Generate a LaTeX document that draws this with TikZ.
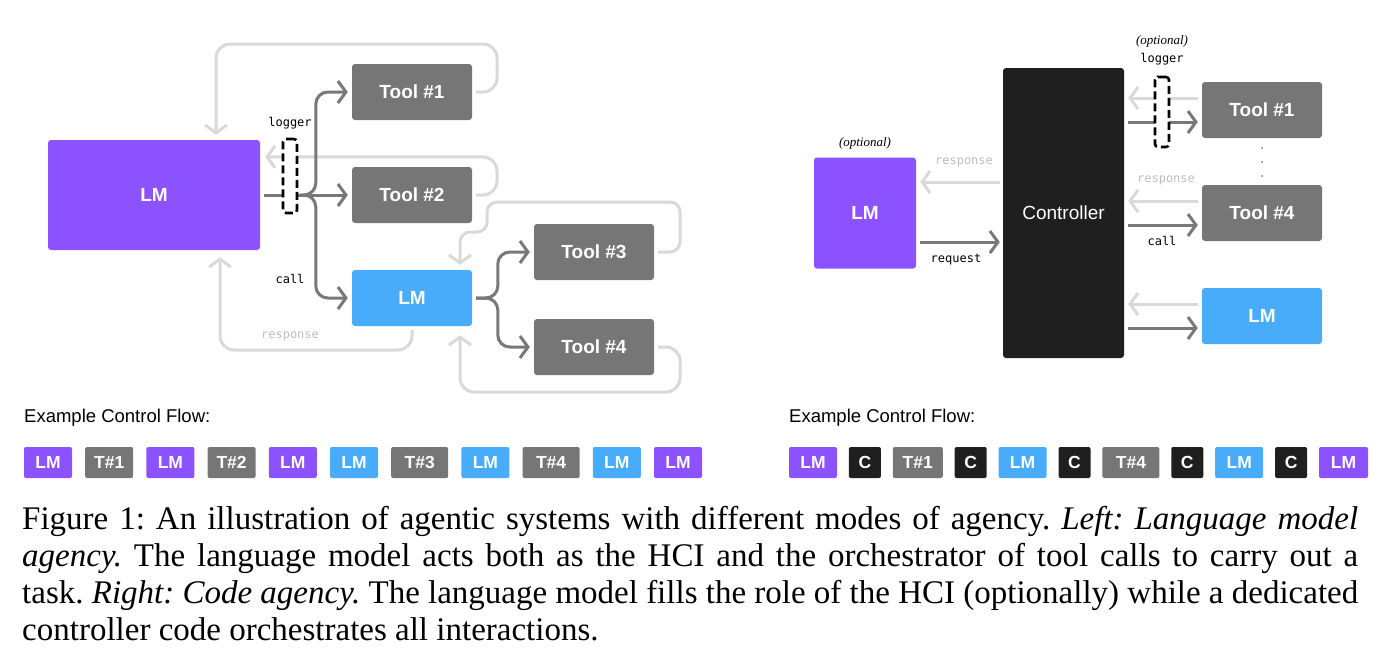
\documentclass[tikz,border=0pt]{standalone}
\usepackage{fontspec}
\setmainfont{Liberation Serif}
\newfontfamily\uisans{Liberation Sans}
\newfontfamily\uimono{DejaVu Sans Mono}
\usetikzlibrary{positioning,calc,arrows.meta}

\definecolor{lmpurple}{HTML}{8C52FF}
\definecolor{lmblue}{HTML}{48ACFB}
\definecolor{toolgray}{HTML}{767676}
\definecolor{ctrlblack}{HTML}{1F1F1F}
\definecolor{respgray}{HTML}{D9D9D9}
\definecolor{resptext}{HTML}{BDBDBD}
\definecolor{callgray}{HTML}{787878}

\tikzset{
  box/.style={rounded corners=3pt, minimum width=120pt, minimum height=56pt, inner sep=0pt,
    text=white, font=\uisans\bfseries\fontsize{19}{19}\selectfont},
  seq/.style={rounded corners=2pt, minimum height=31pt, inner sep=0pt,
    text=white, font=\uisans\bfseries\fontsize{17.5}{17.5}\selectfont},
  call/.style={draw=callgray, line width=3pt, rounded corners=12pt,
    -{Straight Barb[length=8pt,width=22pt]}},
  resp/.style={draw=respgray, line width=3pt, rounded corners=14pt,
    -{Straight Barb[length=8pt,width=22pt]}},
  logger/.style={draw=black, fill=white, line width=2.6pt, dash pattern=on 8pt off 4pt,
    rounded corners=3pt, minimum width=14pt, minimum height=74pt, inner sep=0pt},
  lbl/.style={font=\uimono\fontsize{12}{12}\selectfont, inner sep=1pt},
  hand/.style={font=\itshape\fontsize{13}{13}\selectfont, inner sep=1pt},
}

\begin{document}
\begin{tikzpicture}[x=1pt, y=-1pt]
\useasboundingbox (0,0) rectangle (1386,657);

% left: language model agency
\node[box, fill=lmpurple, minimum width=212pt, minimum height=110pt] (lm) at (154,195) {LM};
\node[box, fill=toolgray] (t1) at (412,92) {Tool \#1};
\node[box, fill=toolgray] (t2) at (412,195) {Tool \#2};
\node[box, fill=lmblue] (lmb) at (412,298) {LM};
\node[box, fill=toolgray] (t3) at (594,252) {Tool \#3};
\node[box, fill=toolgray] (t4) at (594,347) {Tool \#4};

\draw[resp] ($(t1.east)+(4,0)$) -| (497,44) -| ($(lm.north)+(62,-5)$);
\draw[resp] ($(t2.east)+(4,0)$) -| (497,157) -- ($(lm.north east)+(5,17)$);
\draw[resp, rounded corners=10pt] ($(t3.east)+(4,0)$) -| (680,202) -| (487,232) -| ($(lmb.north)+(48,-5)$);
\draw[resp] ($(t4.east)+(4,0)$) -| (680,392) -| ($(lmb.south)+(48,9)$);
\draw[resp] ($(lmb.south)+(0,4)$) |- (220,350) -- ($(lm.south)+(66,7)$);

\coordinate (br) at (300,195);
\draw[call,-] ($(lm.east)+(4,0)$) -- (br);
\draw[call] (br) -- ($(t2.west)+(-4,0)$);
\draw[call] (br) -| ($(t1.west)+(-36,0)$) -- ($(t1.west)+(-4,0)$);
\draw[call] (br) -| ($(lmb.west)+(-36,0)$) -- ($(lmb.west)+(-4,0)$);
\draw[call] ($(lmb.east)+(4,0)$) -| ($(t3.west)+(-36,0)$) -- ($(t3.west)+(-4,0)$);
\draw[call] ($(lmb.east)+(4,0)$) -| ($(t4.west)+(-36,0)$) -- ($(t4.west)+(-4,0)$);

\node[logger] (log) at (290,176) {};
\node[lbl] at (290,123) {logger};
\node[lbl] at (290,279) {call};
\node[lbl, text=resptext] at (290,336) {response};

% right: code agency
\node[box, fill=ctrlblack, minimum width=121pt, minimum height=290pt,
  font=\uisans\fontsize{19}{19}\selectfont] (ctrl) at (1063.5,213) {Controller};
\node[box, fill=lmpurple, minimum width=102pt, minimum height=111pt] (lm2) at (865,213) {LM};
\node[box, fill=toolgray] (rt1) at (1262,110) {Tool \#1};
\node[box, fill=toolgray] (rt4) at (1262,213) {Tool \#4};
\node[box, fill=lmblue] (rlm) at (1262,316) {LM};

\draw[resp] ($(ctrl.west)+(-3,-31)$) -- ($(lm2.east)+(4,-31)$);
\draw[call] ($(lm2.east)+(4,29)$) -- ($(ctrl.west)+(-3,29)$);
\foreach \t in {rt1,rt4,rlm} {
  \draw[resp] ($(\t.west)+(-4,-12)$) -- ($(ctrl.east |- \t.west)+(4,-12)$);
  \draw[call] ($(ctrl.east |- \t.west)+(4,12)$) -- ($(\t.west)+(-4,12)$);
}
\foreach \y in {148,162,176}
  \fill[toolgray] (1262,\y) circle (1);

\node[logger, minimum height=70pt] (rlog) at (1162,112) {};
\node[lbl] at (1162,59) {logger};
\node[hand] at (1162,41) {(optional)};
\node[hand] at (865,143) {(optional)};
\node[lbl, text=resptext] at (964,162) {response};
\node[lbl] at (956,260) {request};
\node[lbl, text=resptext] at (1166,180) {response};
\node[lbl] at (1162,241) {call};

% example control flows
\node[anchor=west, inner sep=0pt, font=\uisans\fontsize{18.5}{18.5}\selectfont] (flowl) at (24,418) {Example Control Flow:};
\node[anchor=west, inner sep=0pt, font=\uisans\fontsize{18.5}{18.5}\selectfont] (flowr) at (789,418) {Example Control Flow:};

\node[seq, fill=lmpurple, minimum width=48pt] (a1) at (48,462.5) {LM};
\foreach \lab/\col/\w [count=\i from 2] in {T\#1/toolgray/48, LM/lmpurple/48, T\#2/toolgray/48,
    LM/lmpurple/48, LM/lmblue/48, T\#3/toolgray/57, LM/lmblue/48, T\#4/toolgray/57,
    LM/lmblue/48, LM/lmpurple/48} {
  \pgfmathtruncatemacro\prev{\i-1}
  \node[seq, fill=\col, minimum width=\w pt, right=12.8pt of a\prev] (a\i) {\lab};
}

\node[seq, fill=lmpurple, minimum width=48pt] (b1) at (813,462.5) {LM};
\foreach \lab/\col/\w [count=\i from 2] in {C/ctrlblack/32, T\#1/toolgray/50, C/ctrlblack/32,
    LM/lmblue/48, C/ctrlblack/32, T\#4/toolgray/57, C/ctrlblack/32, LM/lmblue/48,
    C/ctrlblack/32, LM/lmpurple/49} {
  \pgfmathtruncatemacro\prev{\i-1}
  \node[seq, fill=\col, minimum width=\w pt, right=11.5pt of b\prev] (b\i) {\lab};
}

% caption
\node[anchor=north west, inner sep=0pt, text width=1336pt, align=justify,
  font=\fontsize{33}{37}\selectfont\frenchspacing] (cap) at (22,506) {Figure 1: An illustration of agentic systems with different modes of agency. \textit{Left: Language model}\linebreak
  \textit{agency.} The language model acts both as the HCI and the orchestrator of tool calls to carry out a\linebreak
  task. \textit{Right: Code agency.} The language model fills the role of the HCI (optionally) while a dedicated\linebreak
  controller code orchestrates all interactions.};
\end{tikzpicture}
\end{document}
